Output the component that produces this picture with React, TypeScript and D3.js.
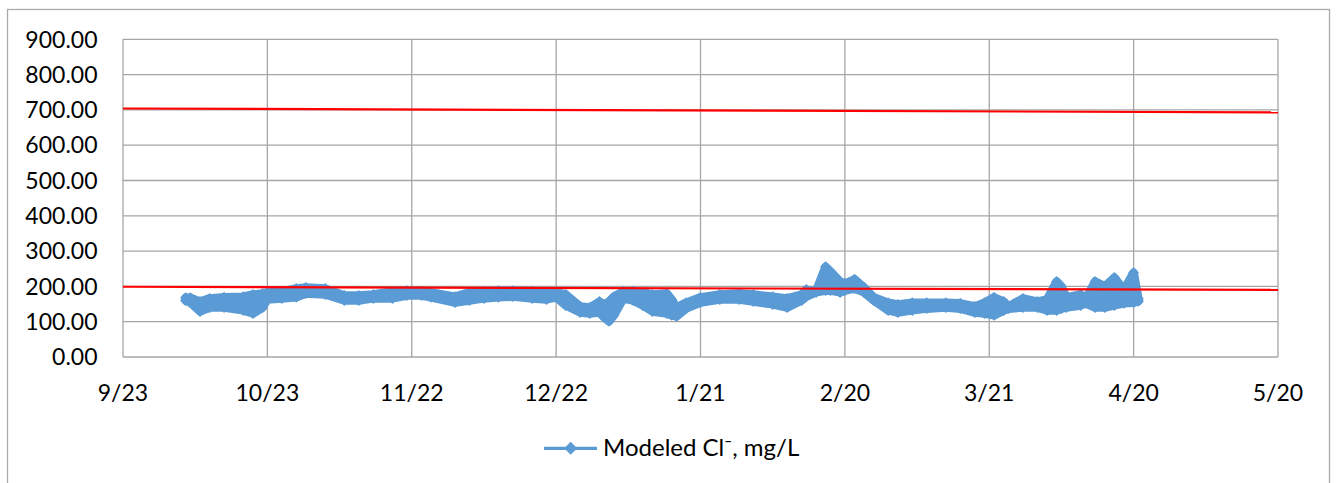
import React from 'react';
import * as d3 from 'd3';

// ---- data ----
const sampleDates = [
  '2019-10-06','2019-10-07','2019-10-09','2019-10-11','2019-10-14','2019-10-18','2019-10-20','2019-10-22','2019-10-23','2019-10-26',
  '2019-10-29','2019-10-31','2019-11-04','2019-11-08','2019-11-11','2019-11-14','2019-11-18','2019-11-21','2019-11-24','2019-11-26',
  '2019-12-01','2019-12-04','2019-12-07','2019-12-10','2019-12-13','2019-12-17','2019-12-20','2019-12-22','2019-12-24','2019-12-27',
  '2019-12-29','2019-12-31','2020-01-01','2020-01-02','2020-01-03','2020-01-05','2020-01-07','2020-01-09','2020-01-11','2020-01-14',
  '2020-01-15','2020-01-16','2020-01-18','2020-01-21','2020-01-25','2020-01-29','2020-02-01','2020-02-05','2020-02-08','2020-02-11',
  '2020-02-12','2020-02-14','2020-02-16','2020-02-17','2020-02-19','2020-02-20','2020-02-22','2020-02-24','2020-02-26','2020-02-29',
  '2020-03-02','2020-03-05','2020-03-08','2020-03-12','2020-03-15','2020-03-18','2020-03-20','2020-03-22','2020-03-24','2020-03-25',
  '2020-03-28','2020-03-31','2020-04-02','2020-04-04','2020-04-05','2020-04-06','2020-04-09','2020-04-10','2020-04-12','2020-04-14',
  '2020-04-16','2020-04-18','2020-04-20','2020-04-21',
];
const hiValues = [
  168, 168, 157, 166, 169, 171, 177, 180, 183, 186,
  194, 197, 194, 174, 174, 177, 186, 188, 186, 183,
  171, 183, 186, 188, 188, 186, 183, 183, 177, 143,
  140, 157, 149, 157, 171, 186, 186, 183, 177, 180,
  163, 140, 154, 169, 177, 180, 177, 171, 166, 177,
  191, 186, 256, 242, 214, 208, 220, 197, 169, 154,
  149, 154, 154, 154, 152, 143, 154, 169, 157, 143,
  166, 157, 163, 214, 200, 169, 177, 163, 214, 200,
  225, 191, 239, 165,
];
const loValues = [
  160, 154, 129, 140, 140, 132, 123, 140, 163, 166,
  169, 180, 177, 160, 160, 166, 166, 174, 174, 169,
  154, 160, 166, 169, 171, 166, 163, 169, 146, 126,
  123, 126, 112, 101, 118, 166, 160, 146, 129, 123,
  118, 115, 137, 154, 163, 163, 157, 149, 140, 160,
  171, 183, 188, 188, 183, 188, 194, 183, 160, 132,
  126, 132, 137, 140, 137, 126, 123, 118, 132, 137,
  140, 140, 132, 132, 137, 140, 146, 152, 140, 140,
  146, 152, 154, 158,
];
const limitDates = ['2019-09-23', '2020-05-20'];
const upperLimit = [704, 693];
const lowerLimit = [199, 190];
const xTickDates = ['2019-09-23','2019-10-23','2019-11-22','2019-12-22','2020-01-21','2020-02-20','2020-03-21','2020-04-20','2020-05-20'];
const xTickLabels = ['9/23','10/23','11/22','12/22','1/21','2/20','3/21','4/20','5/20'];
const yTicks = [0, 100, 200, 300, 400, 500, 600, 700, 800, 900];
const seriesName = 'Modeled Cl\u207B, mg/L';

const W = 1338;
const H = 483;
const PL = 123, PR = 1278, PT = 39.3, PB = 357;
const BLUE = '#5B9BD5';
const GRID = '#A6A6A6';
const FONT = 'Lato, "Open Sans", sans-serif';
const FS = 23;

const parse = d3.utcParse('%Y-%m-%d');

export default function App() {
  const x = d3.scaleUtc()
    .domain([parse(xTickDates[0])!, parse(xTickDates[xTickDates.length - 1])!])
    .range([PL, PR]);
  const y = d3.scaleLinear().domain([0, 900]).range([PB, PT]);

  const idx = sampleDates.map((_, i) => i);
  const dx = (i: number) => x(parse(sampleDates[i])!);

  const band = d3.area<number>()
    .x(dx)
    .y0((i) => y(loValues[i]))
    .y1((i) => y(hiValues[i]))(idx) || '';
  const hiLine = d3.line<number>().x(dx).y((i) => y(hiValues[i]))(idx) || '';
  const loLine = d3.line<number>().x(dx).y((i) => y(loValues[i]))(idx) || '';

  const limitLine = (vals: number[]) =>
    d3.line<number>().x((i) => x(parse(limitDates[i])!)).y((i) => y(vals[i]))([0, 1]) || '';

  const diamond = d3.symbol(d3.symbolSquare, 60)() || '';
  const legendDiamond = d3.symbol(d3.symbolSquare, 84)() || '';
  const fmt = d3.format('.2f');

  return (
    <svg
      width={W}
      height={H}
      style={{ position: 'absolute', left: 0, top: 0, background: '#fff' }}
      fontFamily={FONT}
    >
      <rect x={0} y={0} width={W} height={H} fill="#fff" />
      {/* outer chart frame */}
      <rect x={7.5} y={9.5} width={1322} height={520} fill="none" stroke="#ABABAB" strokeWidth={1.3} />

      {/* gridlines */}
      {yTicks.map((t) => (
        <line key={'gy' + t} x1={PL} x2={PR} y1={y(t)} y2={y(t)} stroke={GRID} strokeWidth={1.3} />
      ))}
      {xTickDates.map((d) => (
        <line key={'gx' + d} x1={x(parse(d)!)} x2={x(parse(d)!)} y1={PT} y2={PB} stroke={GRID} strokeWidth={1.3} />
      ))}

      {/* modeled series */}
      <g>
        <path d={band} fill={BLUE} stroke="none" />
        <path d={hiLine} fill="none" stroke={BLUE} strokeWidth={8.5} strokeLinejoin="round" strokeLinecap="round" />
        <path d={loLine} fill="none" stroke={BLUE} strokeWidth={8.5} strokeLinejoin="round" strokeLinecap="round" />
        {idx.map((i) => (
          <g key={'m' + i}>
            <path d={diamond} transform={`translate(${dx(i)},${y(hiValues[i])}) rotate(45)`} fill={BLUE} />
            <path d={diamond} transform={`translate(${dx(i)},${y(loValues[i])}) rotate(45)`} fill={BLUE} />
          </g>
        ))}
      </g>

      {/* limit lines */}
      <path d={limitLine(upperLimit)} fill="none" stroke="#FF0000" strokeWidth={2.2} />
      <path d={limitLine(lowerLimit)} fill="none" stroke="#FF0000" strokeWidth={2.2} />

      {/* y labels */}
      {yTicks.map((t) => (
        <text key={'yl' + t} x={97.5} y={y(t) + 8.2} textAnchor="end" fontSize={FS} fill="#000">
          {fmt(t)}
        </text>
      ))}
      {/* x labels */}
      {xTickDates.map((d, i) => (
        <text key={'xl' + d} x={x(parse(d)!)} y={400.5} textAnchor="middle" fontSize={FS} fill="#000">
          {xTickLabels[i]}
        </text>
      ))}

      {/* legend */}
      <line x1={544} x2={597} y1={448.3} y2={448.3} stroke={BLUE} strokeWidth={3.2} />
      <path d={legendDiamond} transform="translate(570.7,448.3) rotate(45)" fill={BLUE} />
      <text x={603} y={456} fontSize={24} fill="#000">{seriesName}</text>
    </svg>
  );
}
